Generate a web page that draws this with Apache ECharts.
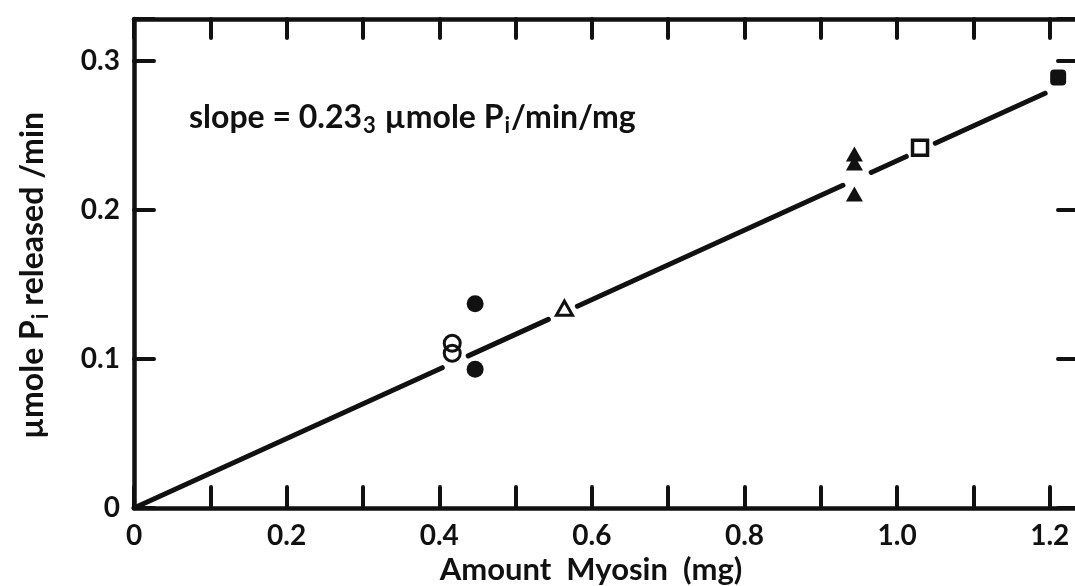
<!DOCTYPE html>
<html>
<head>
<meta charset="utf-8">
<script src="https://cdn.jsdelivr.net/npm/echarts@6/dist/echarts.min.js"></script>
<style>
  html, body { margin: 0; padding: 0; background: #fff; overflow: hidden; }
  #chart { width: 1082px; height: 586px; }
</style>
</head>
<body>
<div id="chart"></div>
<script>
// Phosphate release versus amount of myosin
const xTickValues = [0, 0.2, 0.4, 0.6, 0.8, 1.0, 1.2];
const xTickText = ['0', '0.2', '0.4', '0.6', '0.8', '1.0', '1.2'];
const yTickValues = [0, 0.1, 0.2, 0.3];
const yTickText = ['0', '0.1', '0.2', '0.3'];

// [amount myosin (mg), µmole Pi released / min]
const openCircles = [[0.417, 0.1105], [0.417, 0.1038]];
const filledCircles = [[0.447, 0.137], [0.447, 0.093]];
const openTriangles = [[0.564, 0.134]];
const filledTriangles = [[0.944, 0.2374], [0.944, 0.2314], [0.944, 0.2106]];
const openSquares = [[1.030, 0.2416]];
const filledSquares = [[1.211, 0.2887]];

// fitted line, broken where it passes the symbols
const slope = 0.233;
const lineSegments = [[0, 0.404], [0.438, 0.543], [0.581, 0.929], [0.966, 1.012], [1.050, 1.194]];

const FONT = 'Lato';
const WEIGHT = 'bold';
const INK = '#111';

function tickLabel(values, texts) {
  return function (v) {
    for (let i = 0; i < values.length; i++) {
      if (Math.abs(values[i] - v) < 1e-6) return texts[i];
    }
    return '';
  };
}

const chart = echarts.init(document.getElementById('chart'), null, { renderer: 'canvas' });

const axisLine = { show: true, onZero: false, lineStyle: { color: INK, width: 4.5, cap: 'round' } };
const inTicks = (len) => ({ show: true, inside: true, length: len, lineStyle: { color: INK, width: 4, cap: 'round' } });

const symbolBase = { type: 'scatter', z: 5, silent: true };

const series = [];
lineSegments.forEach(function (seg) {
  series.push({
    type: 'line',
    xAxisIndex: 0, yAxisIndex: 0,
    data: [[seg[0], seg[0] * slope], [seg[1], seg[1] * slope]],
    symbol: 'none',
    lineStyle: { color: INK, width: 5, cap: 'round' },
    silent: true, z: 3
  });
});

series.push(Object.assign({}, symbolBase, {
  data: openCircles, symbol: 'circle', symbolSize: 16,
  itemStyle: { color: 'rgba(255,255,255,0)', borderColor: INK, borderWidth: 3, opacity: 1 }
}));
series.push(Object.assign({}, symbolBase, {
  data: filledCircles, symbol: 'circle', symbolSize: 17,
  itemStyle: { color: INK, opacity: 1 }
}));
series.push(Object.assign({}, symbolBase, {
  data: openTriangles, symbol: 'triangle', symbolSize: [16, 14],
  itemStyle: { color: '#fff', borderColor: INK, borderWidth: 3, opacity: 1 }
}));
series.push(Object.assign({}, symbolBase, {
  data: filledTriangles, symbol: 'triangle', symbolSize: [17, 15],
  itemStyle: { color: INK, opacity: 1 }
}));
series.push(Object.assign({}, symbolBase, {
  data: openSquares, symbol: 'rect', symbolSize: 15,
  itemStyle: { color: '#fff', borderColor: INK, borderWidth: 3.5, opacity: 1 }
}));
series.push(Object.assign({}, symbolBase, {
  data: filledSquares, symbol: 'roundRect', symbolSize: 16,
  itemStyle: { color: INK, opacity: 1 }
}));

const textBase = { fontFamily: FONT, fontWeight: WEIGHT, color: INK };

chart.setOption({
  backgroundColor: '#fff',
  animation: false,
  grid: { left: 134, right: 4, top: 19, bottom: 78, containLabel: false, outerBoundsMode: 'none' },
  xAxis: [{
    type: 'value', position: 'bottom', min: 0, max: 1.237, interval: 0.1,
    name: 'Amount  Myosin  (mg)', nameLocation: 'middle', nameGap: 33,
    nameTextStyle: Object.assign({ fontSize: 31, padding: [0, 30, 0, 0] }, textBase),
    axisLine: axisLine, axisTick: inTicks(21), splitLine: { show: false },
    axisLabel: Object.assign({ formatter: tickLabel(xTickValues, xTickText), fontSize: 28, margin: 14 }, textBase)
  }, {
    type: 'value', position: 'top', min: 0, max: 1.237, interval: 0.1,
    axisLine: axisLine, axisTick: inTicks(19), splitLine: { show: false },
    axisLabel: { show: false }
  }],
  yAxis: [{
    type: 'value', position: 'left', min: 0, max: 0.328, interval: 0.1,
    name: '{t|µmole P}{s|i}{t| released /min}', nameLocation: 'middle', nameGap: 82, nameRotate: 90,
    nameTextStyle: Object.assign({
      fontSize: 32, padding: [0, 24, 0, 0],
      rich: {
        t: Object.assign({ fontSize: 32 }, textBase),
        s: Object.assign({ fontSize: 22, padding: [16, 0, 0, 1] }, textBase)
      }
    }, textBase),
    axisLine: axisLine, axisTick: inTicks(20), splitLine: { show: false },
    axisLabel: Object.assign({ formatter: tickLabel(yTickValues, yTickText), fontSize: 28, margin: 14 }, textBase)
  }, {
    type: 'value', position: 'right', min: 0, max: 0.328, interval: 0.1,
    axisLine: axisLine, axisTick: inTicks(20), splitLine: { show: false },
    axisLabel: { show: false }
  }],
  graphic: [{
    type: 'text', left: 189, top: 102, silent: true,
    style: {
      text: '{t|slope = 0.23}{s|3}{t| µmole P}{s|i}{t|/min/mg}',
      rich: {
        t: { fontFamily: FONT, fontWeight: WEIGHT, fontSize: 32, fill: INK },
        s: { fontFamily: FONT, fontWeight: WEIGHT, fontSize: 22, fill: INK, padding: [16, 1, 0, 1] }
      }
    }
  }],
  series: series
});
</script>
</body>
</html>
